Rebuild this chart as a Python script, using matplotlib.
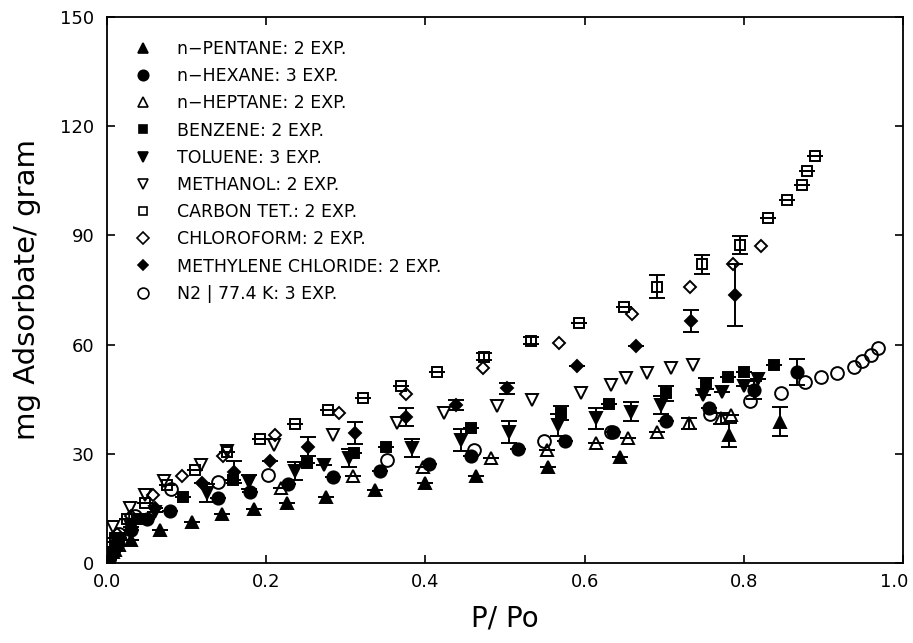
import matplotlib
matplotlib.use("Agg")
import matplotlib.pyplot as plt
from matplotlib.lines import Line2D
from matplotlib.transforms import ScaledTranslation

# ---------------- data ----------------
pent_x = [0.003, 0.010, 0.030, 0.067, 0.107, 0.145, 0.185, 0.226, 0.275, 0.337, 0.400, 0.464, 0.554, 0.645, 0.781, 0.846]
pent_y = [1.5, 3.5, 6.3, 9.1, 11.3, 13.5, 14.8, 16.5, 18.2, 20.0, 22.1, 23.9, 26.3, 29.0, 35.2, 38.8]
pent_e = [0, 0, 0, 0, 0, 0, 0, 0, 0, 0, 0, 0, 0, 0, 3.2, 4.0]

hex_x = [0.004, 0.012, 0.030, 0.050, 0.079, 0.139, 0.180, 0.228, 0.284, 0.343, 0.405, 0.457, 0.516, 0.576, 0.636, 0.702, 0.756, 0.813, 0.867]
hex_y = [2.0, 5.0, 9.0, 12.0, 14.3, 17.8, 19.6, 21.6, 23.7, 25.4, 27.2, 29.4, 31.3, 33.6, 36.1, 39.0, 42.5, 47.5, 52.5]
hex_e = [0, 0, 0, 0, 0, 0, 0, 0, 0, 0, 0, 0, 0, 0, 0, 0, 0, 2.5, 3.5]

hep_x = [0.003, 0.008, 0.015, 0.025, 0.218, 0.309, 0.397, 0.482, 0.553, 0.614, 0.654, 0.691, 0.731, 0.771, 0.784]
hep_y = [1.0, 3.0, 5.0, 8.0, 20.5, 23.9, 26.5, 28.8, 31.0, 32.9, 34.3, 36.1, 38.4, 39.7, 40.7]
hep_e = [0, 0, 0, 0, 0, 0, 0, 0, 0, 0, 0, 0, 1.5, 1.5, 0]

benz_x = [0.005, 0.015, 0.040, 0.096, 0.158, 0.251, 0.310, 0.350, 0.457, 0.570, 0.631, 0.702, 0.752, 0.780, 0.800, 0.838]
benz_y = [3.0, 7.0, 12.0, 18.2, 22.8, 27.4, 30.2, 32.0, 37.0, 41.2, 43.7, 46.6, 49.4, 51.2, 52.4, 54.4]
benz_e = [0, 0, 0, 0, 0, 0, 0, 0, 0, 2.0, 0, 2.0, 1.5, 0, 0, 0]

tol_x = [0.004, 0.012, 0.030, 0.060, 0.126, 0.179, 0.236, 0.273, 0.304, 0.383, 0.445, 0.505, 0.566, 0.614, 0.658, 0.696, 0.749, 0.773, 0.800, 0.818]
tol_y = [2.5, 6.0, 10.0, 14.0, 19.2, 22.3, 25.3, 26.9, 28.8, 31.5, 33.8, 36.1, 37.9, 39.7, 41.6, 43.4, 46.2, 47.1, 48.6, 50.5]
tol_e = [0, 0, 0, 0, 2.5, 2.0, 2.5, 0, 2.5, 2.5, 3.0, 3.0, 3.0, 3.0, 2.5, 2.5, 0, 0, 0, 0]

meth_x = [0.003, 0.008, 0.029, 0.048, 0.071, 0.118, 0.151, 0.210, 0.284, 0.364, 0.423, 0.490, 0.534, 0.595, 0.633, 0.652, 0.679, 0.708, 0.736]
meth_y = [4.0, 10.0, 15.0, 18.7, 22.6, 26.9, 30.8, 32.5, 35.2, 38.4, 41.1, 43.0, 44.8, 46.8, 48.9, 50.7, 52.1, 53.5, 54.4]

ccl4_x = [0.003, 0.010, 0.025, 0.048, 0.075, 0.110, 0.151, 0.192, 0.236, 0.278, 0.321, 0.369, 0.415, 0.474, 0.533, 0.593, 0.650, 0.691, 0.748, 0.795, 0.830, 0.854, 0.873, 0.880, 0.890]
ccl4_y = [3.0, 7.0, 12.0, 16.4, 21.4, 25.5, 30.4, 34.2, 38.2, 42.0, 45.2, 48.6, 52.6, 56.7, 61.1, 66.0, 70.4, 75.9, 82.1, 87.4, 94.7, 99.7, 103.8, 107.8, 111.8]
ccl4_e = [0, 0, 0, 0, 0, 0, 0, 0, 0, 0, 0, 0, 0, 1.0, 1.0, 0, 0, 3.2, 2.6, 2.5, 0, 0, 0, 0, 0]

chcl3_x = [0.004, 0.012, 0.030, 0.058, 0.094, 0.146, 0.211, 0.292, 0.375, 0.472, 0.568, 0.660, 0.732, 0.786, 0.821]
chcl3_y = [3.0, 8.0, 13.0, 18.7, 23.9, 29.5, 35.2, 41.1, 46.4, 53.5, 60.5, 68.4, 75.7, 82.1, 87.2]

mecl_x = [0.004, 0.012, 0.030, 0.060, 0.119, 0.160, 0.205, 0.252, 0.311, 0.375, 0.438, 0.503, 0.590, 0.664, 0.734, 0.789]
mecl_y = [2.0, 6.0, 10.0, 15.0, 21.9, 24.9, 28.0, 32.0, 35.8, 40.2, 43.4, 48.0, 54.0, 59.6, 66.5, 73.6]
mecl_e = [0, 0, 0, 0, 0, 3.0, 0, 2.5, 3.0, 2.5, 1.5, 1.5, 0, 0, 3.0, 8.5]

n2_x = [0.002, 0.006, 0.015, 0.035, 0.081, 0.140, 0.202, 0.352, 0.461, 0.549, 0.633, 0.758, 0.808, 0.847, 0.877, 0.897, 0.917, 0.938, 0.949, 0.960, 0.968]
n2_y = [1.0, 3.0, 8.0, 13.0, 20.3, 22.3, 24.2, 28.3, 31.0, 33.6, 36.1, 40.9, 44.5, 46.8, 49.8, 51.2, 52.2, 53.8, 55.5, 57.2, 59.2]

labels = ["n\u2212PENTANE: 2 EXP.", "n\u2212HEXANE: 3 EXP.", "n\u2212HEPTANE: 2 EXP.",
          "BENZENE: 2 EXP.", "TOLUENE: 3 EXP.", "METHANOL: 2 EXP.",
          "CARBON TET.: 2 EXP.", "CHLOROFORM: 2 EXP.",
          "METHYLENE CHLORIDE: 2 EXP.", "N2 | 77.4 K: 3 EXP."]

x_ticks = [0.0, 0.2, 0.4, 0.6, 0.8, 1.0]
y_ticks = [0, 30, 60, 90, 120, 150]

# ---------------- figure ----------------
plt.rcParams['font.family'] = ['DejaVu Sans']
fig = plt.figure(figsize=(9.13, 6.43), dpi=100)
ax = fig.add_axes([107/913, 80/643, 796/913, 546/643])

series = [
    (pent_x, pent_y, pent_e, '^', 'k', 8.2),
    (hex_x, hex_y, hex_e, 'o', 'k', 8.8),
    (hep_x, hep_y, hep_e, '^', 'none', 8.8),
    (benz_x, benz_y, benz_e, 's', 'k', 7.0),
    (tol_x, tol_y, tol_e, 'v', 'k', 8.2),
    (meth_x, meth_y, None, 'v', 'none', 8.8),
    (ccl4_x, ccl4_y, ccl4_e, 's', 'none', 7.6),
    (chcl3_x, chcl3_y, None, 'D', 'none', 6.6),
    (mecl_x, mecl_y, mecl_e, 'D', 'k', 6.2),
    (n2_x, n2_y, None, 'o', 'none', 9.2),
]

handles = []
for (xs, ys, es, mk, fc, ms), lab in zip(series, labels):
    if es is not None:
        ax.errorbar(xs, ys, yerr=es, fmt='none', ecolor='k', elinewidth=1.4,
                    capsize=5.5, capthick=1.4, zorder=2)
    ax.plot(xs, ys, linestyle='none', marker=mk, markersize=ms,
            markerfacecolor=fc, markeredgecolor='k', markeredgewidth=1.4, zorder=3)
    handles.append(Line2D([], [], linestyle='none', marker=mk,
                          markersize=ms * 0.85, markerfacecolor=fc,
                          markeredgecolor='k', markeredgewidth=1.2))

ax.set_xlim(0, 1.0)
ax.set_ylim(0, 150)
ax.set_xticks(x_ticks)
ax.set_xticklabels(["%.1f" % v for v in x_ticks])
ax.set_yticks(y_ticks)
ax.set_yticklabels([str(v) for v in y_ticks])
ax.tick_params(direction='in', length=6, width=1.2, top=True, right=True,
               labelsize=13)
ax.tick_params(axis='x', pad=7)
ax.tick_params(axis='y', pad=9)
for sp in ax.spines.values():
    sp.set_linewidth(1.3)

# shift the last x tick label slightly left (as in the reference)
last = ax.get_xticklabels()[-1]
last.set_transform(last.get_transform() + ScaledTranslation(-6/72, 0, fig.dpi_scale_trans))

ax.set_xlabel("P/ Po", fontsize=20, labelpad=10)
ax.set_ylabel("mg Adsorbate/ gram", fontsize=21, labelpad=14)

leg = ax.legend(handles, labels, loc='upper left', bbox_to_anchor=(0.034, 0.958),
                frameon=False, fontsize=12.5, handlelength=1.0, handletextpad=1.5,
                labelspacing=0.53, borderpad=0, borderaxespad=0)

fig.savefig("out.png", dpi=100)
